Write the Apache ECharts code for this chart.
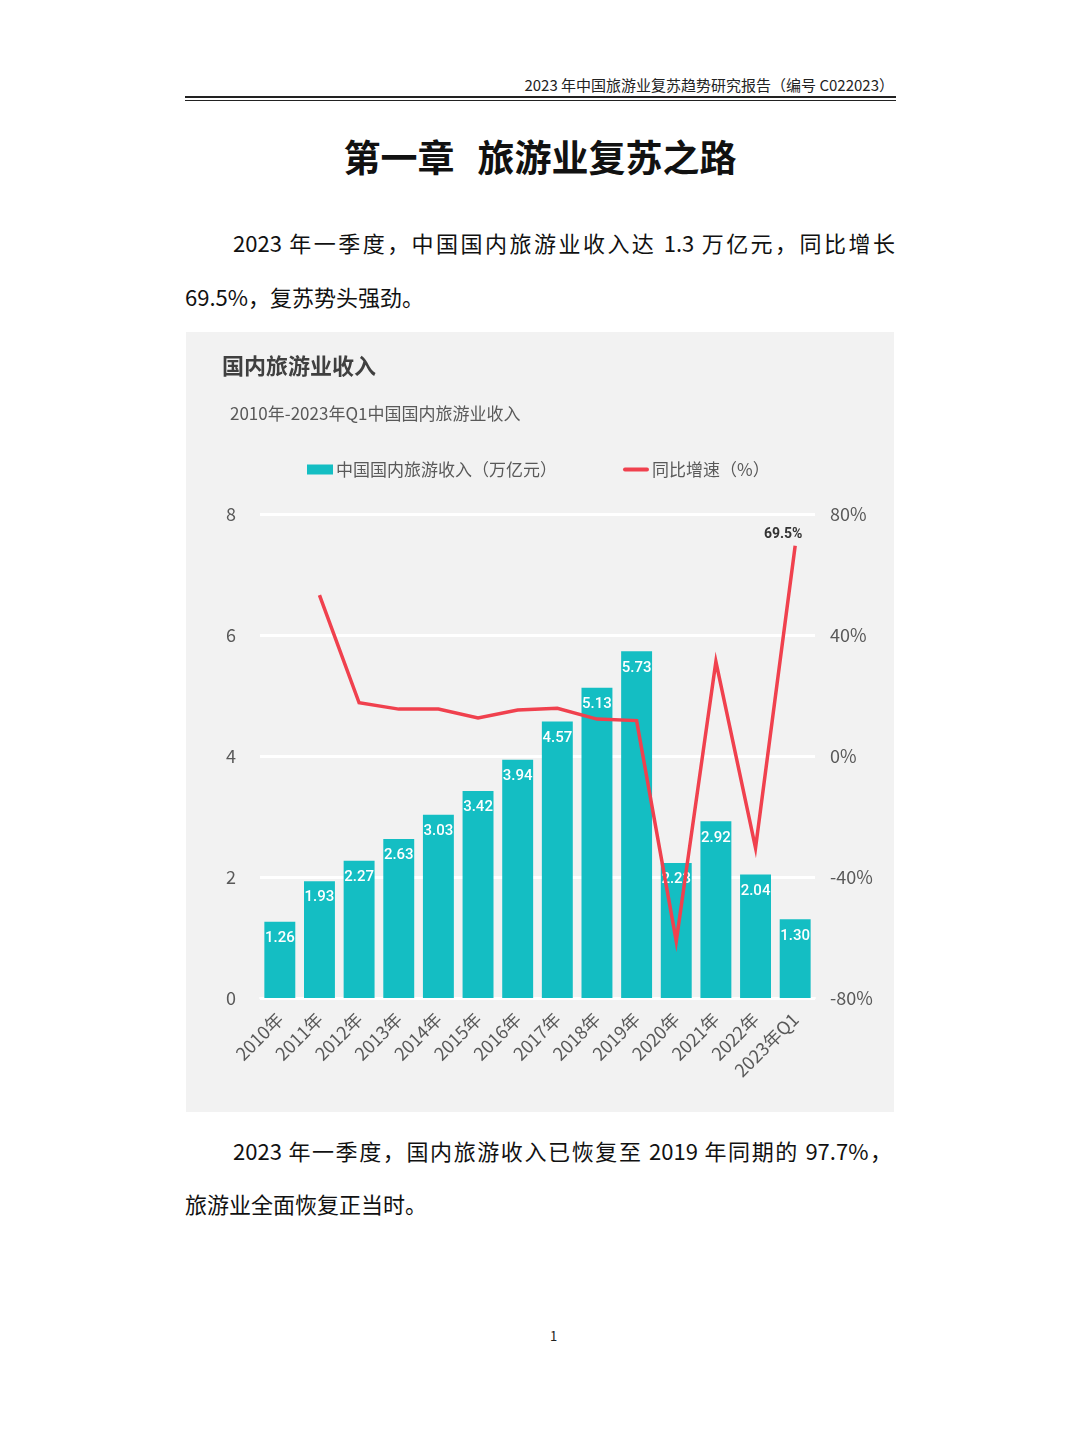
<!DOCTYPE html>
<html>
<head>
<meta charset="utf-8">
<script src="https://cdn.jsdelivr.net/npm/echarts@6/dist/echarts.min.js"></script>
<style>
    html, body { margin: 0; padding: 0; }
    body {
        width: 1080px; height: 1440px; background: #fff; position: relative;
        font-family: "Noto Sans CJK SC", "Noto Sans", sans-serif; color: #111;
    }
    .abs { position: absolute; white-space: nowrap; }
    .header { right: 186px; top: 75px; font-size: 15px; line-height: 20px; color: #222; }
    .rule1 { left: 185px; width: 711px; top: 96px; height: 2px; background: #222; }
    .rule2 { left: 185px; width: 711px; top: 100px; height: 1px; background: #222; }
    .title { left: 0; width: 1080px; text-align: center; top: 132px; font-size: 37px; line-height: 48px; font-weight: 700; color: #111; }
    .title span { margin-left: 23px; }
    .p { font-size: 22px; line-height: 30px; color: #111; }
    .just { text-align: justify; text-align-last: justify; }
    .box { left: 186px; top: 332px; width: 708px; height: 780px; background: #f2f2f2; }
    .pageno { left: 550px; top: 1327px; font-size: 13px; line-height: 18px; color: #222; }
</style>
</head>
<body>
<div class="abs header">2023 年中国旅游业复苏趋势研究报告（编号 C022023）</div>
<div class="abs rule1"></div>
<div class="abs rule2"></div>
<div class="abs title">第一章<span>旅游业复苏之路</span></div>
<div class="abs p just" style="left:233px;width:662px;top:227px;">2023 年一季度，中国国内旅游业收入达 1.3 万亿元，同比增长</div>
<div class="abs p" style="left:185px;top:281px;">69.5%，复苏势头强劲。</div>
<div class="abs box" id="chart"></div>
<div class="abs p just" style="left:233px;width:659px;top:1135px;">2023 年一季度，国内旅游收入已恢复至 2019 年同期的 97.7%，</div>
<div class="abs p" style="left:185px;top:1188px;">旅游业全面恢复正当时。</div>
<div class="abs pageno">1</div>

<script>
// 年份
const years = ["2010年", "2011年", "2012年", "2013年", "2014年", "2015年", "2016年",
    "2017年", "2018年", "2019年", "2020年", "2021年", "2022年", "2023年Q1"];
// 国内旅游收入（万亿元）
const income = [1.26, 1.93, 2.27, 2.63, 3.03, 3.42, 3.94, 4.57, 5.13, 5.73, 2.23, 2.92, 2.04, 1.30];
// 同比增速（%）
const growth = [null, 53.2, 17.6, 15.5, 15.5, 12.6, 15.2, 15.8, 12.2, 11.7, -61.2, 31.2, -30.4, 69.5];

const leftTicks = { min: 0, max: 8, interval: 2 };
const rightTicks = { min: -80, max: 80, interval: 40 };

const barName = "中国国内旅游收入（万亿元）";
const lineName = "同比增速（%）";

const cjk = '"Noto Sans CJK SC", sans-serif';
const num = 'Roboto, "Noto Sans", sans-serif';

const chart = echarts.init(document.getElementById("chart"));

chart.setOption({
    backgroundColor: "#f2f2f2",
    animation: false,
    title: [
        {
            text: "国内旅游业收入",
            left: 31,
            top: 18,
            textStyle: { fontFamily: cjk, fontSize: 22, fontWeight: "bold", color: "#404040" },
        },
        {
            text: "2010年-2023年Q1中国国内旅游业收入",
            left: 39,
            top: 68,
            textStyle: { fontFamily: cjk, fontSize: 17, fontWeight: "normal", color: "#595959" },
        },
    ],
    legend: {
        left: 116,
        top: 124,
        itemWidth: 26,
        itemHeight: 10,
        itemGap: 66,
        symbolKeepAspect: true,
        textStyle: { fontFamily: cjk, fontSize: 17, color: "#595959", padding: [0, 0, 0, -2] },
        data: [
            { name: barName, icon: "rect" },
            { name: lineName, icon: "path://M2,0 L24,0 A2,2 0 0 1 24,4 L2,4 A2,2 0 0 1 2,0 Z" },
        ],
    },
    grid: { left: 74, right: 79, top: 182, bottom: 114, containLabel: false },
    xAxis: {
        type: "category",
        data: years,
        axisLine: { show: true, lineStyle: { color: "#ffffff", width: 2 } },
        axisTick: { show: false },
        axisLabel: { rotate: 45, margin: 18, fontFamily: cjk, fontSize: 18, color: "#595959", interval: 0 },
    },
    yAxis: [
        {
            type: "value",
            min: leftTicks.min,
            max: leftTicks.max,
            interval: leftTicks.interval,
            axisLine: { show: false },
            axisTick: { show: false },
            axisLabel: { margin: 24, fontFamily: cjk, fontSize: 18, color: "#595959" },
            splitLine: { lineStyle: { color: "#ffffff", width: 3 } },
        },
        {
            type: "value",
            min: rightTicks.min,
            max: rightTicks.max,
            interval: rightTicks.interval,
            axisLine: { show: false },
            axisTick: { show: false },
            axisLabel: { margin: 15, formatter: "{value}%", fontFamily: cjk, fontSize: 18, color: "#595959" },
            splitLine: { show: false },
        },
    ],
    series: [
        {
            name: barName,
            type: "bar",
            data: income,
            barWidth: "78%",
            itemStyle: { color: "#14bec3" },
            label: {
                show: true,
                position: "insideTop",
                distance: 9,
                color: "#ffffff",
                fontFamily: num,
                fontWeight: 500,
                fontSize: 15,
                formatter: p => p.value.toFixed(2),
            },
        },
        {
            name: lineName,
            type: "line",
            yAxisIndex: 1,
            data: growth,
            symbol: "circle",
            symbolSize: 0.1,
            showSymbol: true,
            z: 3,
            lineStyle: { color: "#f0414e", width: 3.5, join: "miter" },
            itemStyle: { color: "#f0414e" },
            label: {
                show: true,
                position: "top",
                distance: 4,
                offset: [-12, 0],
                color: "#333333",
                fontFamily: num,
                fontWeight: "bold",
                fontSize: 14,
                formatter: p => (p.dataIndex === growth.length - 1 ? p.value + "%" : ""),
            },
        },
    ],
});
</script>
</body>
</html>
